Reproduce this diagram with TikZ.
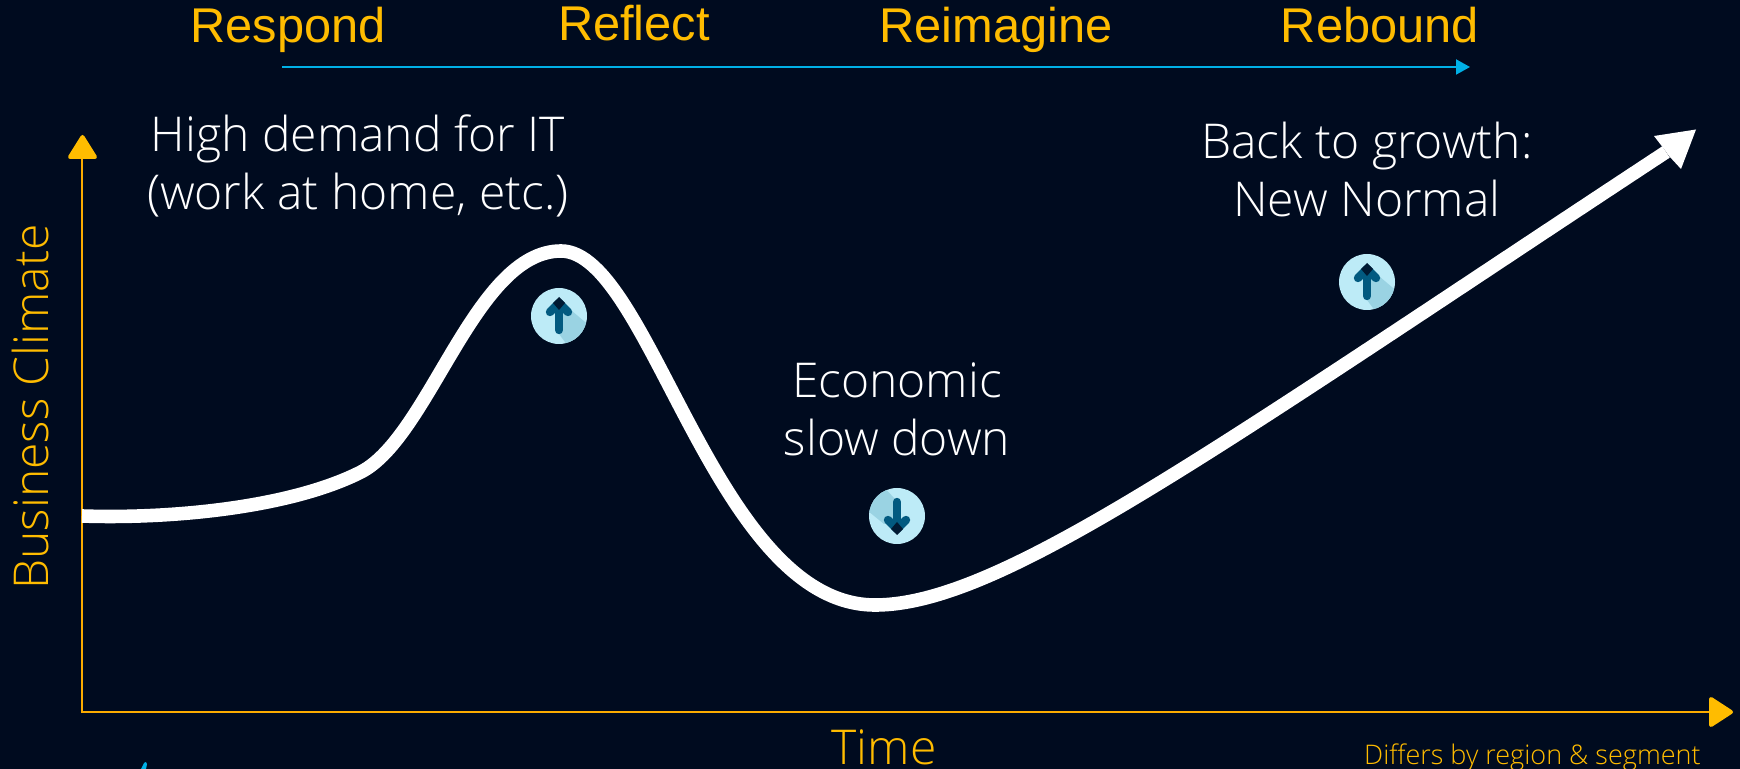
\documentclass[tikz,border=0pt]{standalone}
\usepackage{fontspec}
\setmainfont{Open Sans Light}
\newfontfamily\phasefont{Liberation Sans}
\usetikzlibrary{arrows.meta}
\definecolor{bg}{HTML}{000B1F}
\definecolor{gold}{HTML}{FBAB00}
\definecolor{goldb}{HTML}{FFBC00}
\definecolor{cyanl}{HTML}{00B0E6}
\definecolor{iconl}{HTML}{BDEBF7}
\definecolor{icons}{HTML}{9AD3E3}
\definecolor{iconar}{HTML}{025A80}
\definecolor{icond}{HTML}{001A33}
\tikzset{
  x=0.5pt,y=-0.5pt,
  phase/.style={text=goldb,font=\phasefont\fontsize{24.4}{28}\selectfont,inner sep=0pt,anchor=base},
  note/.style={text=white,font=\fontsize{24}{29}\selectfont,align=center,inner sep=0pt},
  axlabel/.style={text=goldb,font=\fontsize{24}{28}\selectfont,inner sep=0pt,anchor=base},
  axisline/.style={draw=gold,line width=1.05pt},
  axistip/.style={fill=goldb,draw=goldb,line width=2pt,line join=round},
  upicon/.pic={
    \fill[iconl] (0,0) circle (28);
    \begin{scope}
      \clip (0,0) circle (28);
      \fill[icons] (0,-19) -- (13,-5) -- (45,22) -- (20,45) -- (0,18) -- cycle;
    \end{scope}
    \draw[iconar,line width=4.2pt,line cap=round,line join=round] (0,-8) -- (0,14);
    \draw[iconar,line width=4.2pt,line cap=round,line join=round] (-9,-4) -- (0,-13) -- (9,-4);
    \fill[icond] (0,-19) -- (6,-13) -- (0,-6) -- (-6,-13) -- cycle;
  },
  downicon/.pic={
    \fill[iconl] (0,0) circle (28);
    \begin{scope}
      \clip (0,0) circle (28);
      \fill[icons] (-45,-18) -- (-13,8) -- (0,8) -- (0,-15) -- (-24,-40) -- cycle;
    \end{scope}
    \draw[iconar,line width=4.2pt,line cap=round,line join=round] (0,8) -- (0,-14);
    \draw[iconar,line width=4.2pt,line cap=round,line join=round] (-9,4) -- (0,13) -- (9,4);
    \fill[icond] (0,19) -- (6,13) -- (0,6) -- (-6,13) -- cycle;
  }
}
\begin{document}
\begin{tikzpicture}
\fill[bg] (0,0) rectangle (1740,769);
\useasboundingbox (0,0) rectangle (1740,769);
% phases
\node[phase] (respond) at (288,43) {Respond};
\node[phase] (reflect) at (634,41) {Reflect};
\node[phase] (reimagine) at (996,43) {Reimagine};
\node[phase] (rebound) at (1380,43) {Rebound};
\coordinate (tlA) at (282,67);
\coordinate (tlB) at (1470,67);
\draw[cyanl,line width=1pt,-{Triangle[length=7pt,width=7.5pt]}] (tlA) -- (tlB);
% axes
\coordinate (o) at (82,712);
\coordinate (yt) at (82,150);
\coordinate (xt) at (1715,712);
\draw[axisline] (yt) -- (o) -- (xt);
\fill[axistip] (82.5,137) -- (95,157) -- (70,157) -- cycle;
\fill[axistip] (1731,712) -- (1711,699) -- (1711,725) -- cycle;
\node[axlabel,rotate=90] (bc) at (48,407) {Business Climate};
\node[axlabel] (time) at (884,764) {Time};
\node[text=goldb,font=\fontsize{13.5}{16}\selectfont,inner sep=0pt,anchor=base east] (diff) at (1701,764) {Differs by region \& segment};
% curve
\draw[white,line width=6.8pt] (82,516)
  .. controls (170,519) and (290,508) .. (361,472)
  .. controls (430,436) and (475,251) .. (561,251)
  .. controls (650,251) and (715,605) .. (875,605)
  .. controls (1000,605) and (1210,452) .. (1666,152);
\fill[white] (1696,129.5) -- (1654,136) -- (1664,149) -- (1669,156) -- (1681,169) -- cycle;
% notes
\node[note] (high) at (358,166) {High demand for IT\\(work at home, etc.)};
\node[note] (econ) at (897,409) {Economic\\slow down};
\node[note] (back) at (1367,170) {Back to growth:\\New Normal};
% icons
\pic at (559,316) {upicon};
\pic at (897,516) {downicon};
\pic at (1367,282) {upicon};
% stray mark
\fill[cyanl] (141,769) -- (144,763) .. controls (145,761) and (147,762) .. (147,764) -- (146,769) -- cycle;
\end{tikzpicture}
\end{document}
